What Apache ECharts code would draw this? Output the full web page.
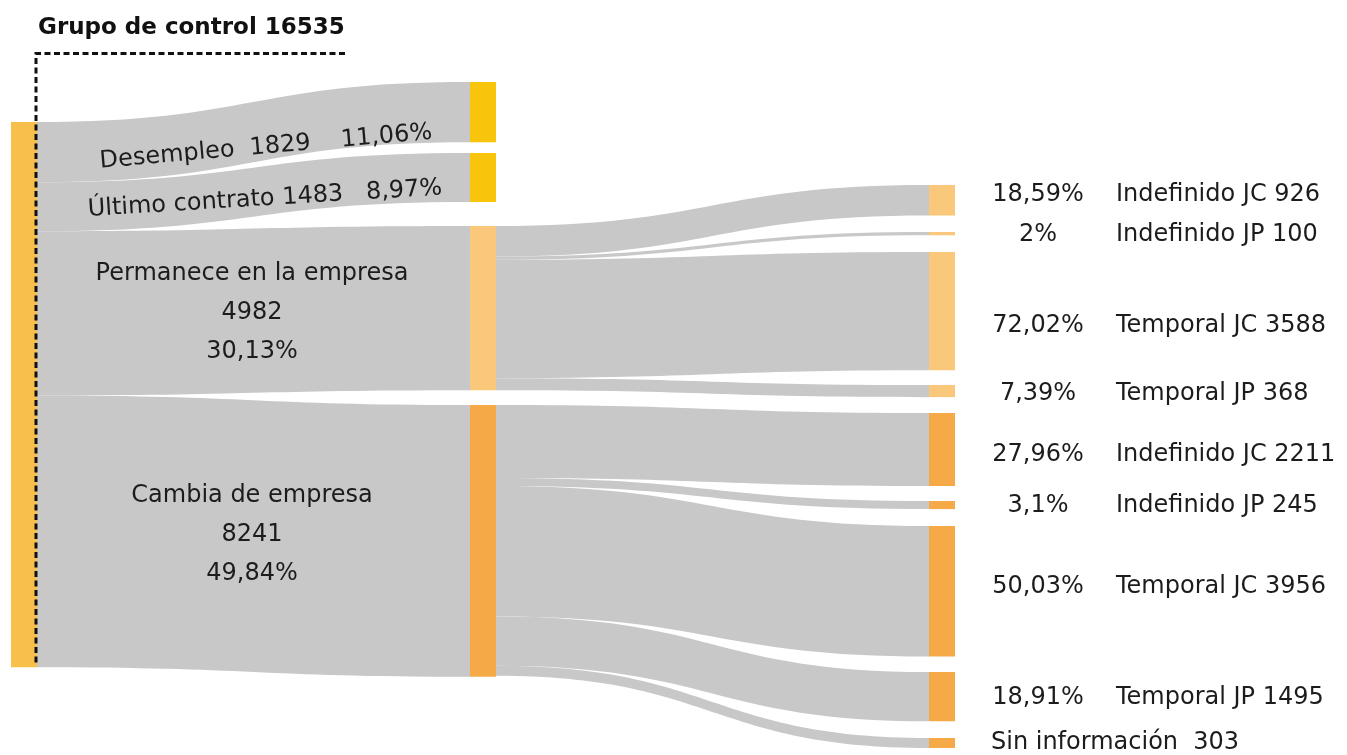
<!DOCTYPE html>
<html><head><meta charset="utf-8">
<script src="https://cdn.jsdelivr.net/npm/echarts@6/dist/echarts.min.js"></script>
<style>html,body{margin:0;padding:0;background:#fff}#chart{width:1347px;height:755px}</style>
</head><body><div id="chart"></div>
<script>
// ---- data ----
const rootName = 'Grupo de control';
const rootTotal = 16535;
const stageNames = ['Desempleo', 'Último contrato', 'Permanece en la empresa', 'Cambia de empresa'];
const stageValues = [1829, 1483, 4982, 8241];
const stagePct = ['11,06%', '8,97%', '30,13%', '49,84%'];
const permNames = ['Indefinido JC', 'Indefinido JP', 'Temporal JC', 'Temporal JP'];
const permValues = [926, 100, 3588, 368];
const permPct = ['18,59%', '2%', '72,02%', '7,39%'];
const cambNames = ['Indefinido JC', 'Indefinido JP', 'Temporal JC', 'Temporal JP', 'Sin información'];
const cambValues = [2211, 245, 3956, 1495, 303];
const cambPct = ['27,96%', '3,1%', '50,03%', '18,91%', ''];

// ---- layout / style ----
const W = 1347, H = 755;
const FONT = 'DejaVu Sans';
const colX = [11, 470, 929];
const rootTop = 122;
const stageTop = [82, 153, 226, 405];
const permTop = [185, 232, 252, 385];
const cambTop = [413, 501, 526, 672, 738];
const permLabelDy = [-6, 1, 15, 3];
const cambLabelDy = [5, 1, -4, 1, 0];
const stageLabelPos = [[-204, 65], [-205, 46], [-218, 87], [-218, 130]];
const stageLabelRot = [5, 3.5, 0, 0];
const colors = { root: '#F8C04B', exit: '#F9C50C', perm: '#F9C87A', camb: '#F6A947' };
const TXT = '#1c1c1c';

const nodes = [];
const links = [];
nodes.push({ name: rootName, localX: colX[0] / W, localY: rootTop / H,
  itemStyle: { color: colors.root }, label: { show: false } });

stageNames.forEach((n, i) => {
  let text;
  if (i === 0) text = n + '  ' + stageValues[i] + '    ' + stagePct[i];
  else if (i === 1) text = n + ' ' + stageValues[i] + '   ' + stagePct[i];
  else text = n + '\n' + stageValues[i] + '\n' + stagePct[i];
  nodes.push({
    name: n, localX: colX[1] / W, localY: stageTop[i] / H,
    itemStyle: { color: i < 2 ? colors.exit : (i === 2 ? colors.perm : colors.camb) },
    label: { show: true, position: stageLabelPos[i], align: 'center', verticalAlign: 'middle',
      rotate: stageLabelRot[i], lineHeight: 39, formatter: text }
  });
  links.push({ source: rootName, target: n, value: stageValues[i] });
});

const rich = {
  p: { width: 156, align: 'center', fontFamily: FONT, fontSize: 24, color: TXT },
  n: { fontFamily: FONT, fontSize: 24, color: TXT },
  s: { fontFamily: FONT, fontSize: 24, color: TXT }
};
function addChildren(parent, names, values, pcts, tops, dys, color) {
  names.forEach((n, i) => {
    const id = n + ' ' + values[i];
    const hasPct = pcts[i] !== '';
    nodes.push({
      name: id, localX: colX[2] / W, localY: tops[i] / H,
      itemStyle: { color: color },
      label: { show: true, position: 'right', distance: hasPct ? 5 : 36, offset: [0, dys[i]],
        formatter: hasPct ? '{p|' + pcts[i] + '}{n|' + n + ' ' + values[i] + '}' : '{s|' + n + '  ' + values[i] + '}',
        rich: rich }
    });
    links.push({ source: parent, target: id, value: values[i] });
  });
}
addChildren(stageNames[2], permNames, permValues, permPct, permTop, permLabelDy, colors.perm);
addChildren(stageNames[3], cambNames, cambValues, cambPct, cambTop, cambLabelDy, colors.camb);

const chart = echarts.init(document.getElementById('chart'), null, { renderer: 'canvas' });
chart.setOption({
  animation: false,
  backgroundColor: '#fff',
  title: { text: rootName + ' ' + rootTotal, left: 33, top: 12,
    textStyle: { fontFamily: FONT, fontWeight: 'bold', fontSize: 23, color: '#111' } },
  tooltip: { show: false },
  graphic: [{ type: 'polyline', z: 100, silent: true,
    shape: { points: [[345, 53.5], [36, 53.5], [36, 666]] },
    style: { stroke: '#111', lineWidth: 3, lineDash: [6, 3.5], fill: null } }],
  series: [{
    type: 'sankey', left: 0, top: 0, width: W, height: H,
    nodeWidth: 26, nodeGap: 40, nodeAlign: 'left', layoutIterations: 0, draggable: false,
    emphasis: { disabled: true },
    data: nodes, links: links,
    lineStyle: { color: '#c8c8c8', opacity: 1, curveness: 0.5 },
    label: { fontFamily: FONT, fontSize: 24, color: TXT },
    itemStyle: { borderWidth: 0 }
  }]
});
</script></body></html>
